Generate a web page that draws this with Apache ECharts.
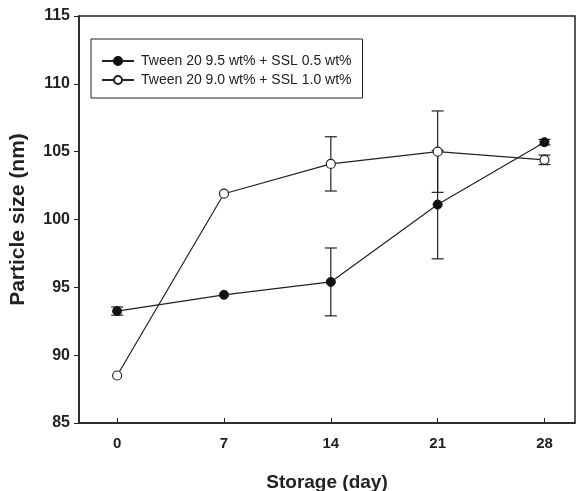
<!DOCTYPE html>
<html>
<head>
<meta charset="utf-8">
<script src="https://cdn.jsdelivr.net/npm/echarts@6/dist/echarts.min.js"></script>
<style>
  html, body { margin: 0; padding: 0; background: #fff; }
  #chart { width: 583px; height: 491px; }
</style>
</head>
<body>
<div id="chart"></div>
<script>
// storage days
const days = [0, 7, 14, 21, 28];
// Tween 20 9.5 wt% + SSL 0.5 wt%
const sizeA = [93.25, 94.45, 95.4, 101.1, 105.7];
const errA = [0.3, 0, 2.5, 4.0, 0.2];
// Tween 20 9.0 wt% + SSL 1.0 wt%
const sizeB = [88.5, 101.9, 104.1, 105.0, 104.4];
const errB = [0, 0, 2.0, 3.0, 0.35];
const nameA = 'Tween 20 9.5 wt% + SSL 0.5 wt%';
const nameB = 'Tween 20 9.0 wt% + SSL 1.0 wt%';

const chart = echarts.init(document.getElementById('chart'));

const fontFam = '"Liberation Sans", Arial, sans-serif';

const toPoints = (vals) => days.map((d, i) => [d, vals[i]]);
const toErr = (vals, errs) => days.map((d, i) => [d, vals[i] - errs[i], vals[i] + errs[i]]);

// vertical error bar with caps, skipped when there is no error
const renderErr = (params, api) => {
  const x = api.value(0);
  if (api.value(1) === api.value(2)) return null;
  const lo = api.coord([x, api.value(1)]);
  const hi = api.coord([x, api.value(2)]);
  const hw = 6;
  const style = { stroke: '#222', lineWidth: 1.2 };
  return {
    type: 'group',
    children: [
      { type: 'line', shape: { x1: lo[0], y1: lo[1], x2: hi[0], y2: hi[1] }, style },
      { type: 'line', shape: { x1: lo[0] - hw, y1: lo[1], x2: lo[0] + hw, y2: lo[1] }, style },
      { type: 'line', shape: { x1: hi[0] - hw, y1: hi[1], x2: hi[0] + hw, y2: hi[1] }, style },
    ],
  };
};

const option = {
  animation: false,
  grid: {
    left: 79, right: 8, top: 16, bottom: 68,
    outerBoundsMode: 'none',
    show: true, borderColor: '#222', borderWidth: 1.5,
  },
  legend: {
    left: 91, top: 39,
    orient: 'vertical',
    padding: [15, 11, 11, 10],
    itemGap: 5,
    itemWidth: 32, itemHeight: 10,
    backgroundColor: '#fff',
    borderColor: '#222', borderWidth: 1,
    borderRadius: 0,
    textStyle: { fontFamily: fontFam, fontSize: 14, color: '#222', padding: [0, 0, 0, 2] },
    data: [nameA, nameB],
  },
  xAxis: {
    type: 'value',
    min: -2.5, max: 30,
    name: 'Storage (day)',
    nameLocation: 'middle',
    nameGap: 50,
    nameTextStyle: { fontFamily: fontFam, fontSize: 19, fontWeight: 'bold', color: '#222' },
    axisLine: { onZero: false, lineStyle: { color: '#222', width: 1.5 } },
    axisTick: { inside: true, length: 5, customValues: days, lineStyle: { color: '#222' } },
    axisLabel: { customValues: days, margin: 13, fontFamily: fontFam, fontSize: 15, fontWeight: 'bold', color: '#222' },
    splitLine: { show: false },
  },
  yAxis: {
    type: 'value',
    min: 85, max: 115, interval: 5,
    name: 'Particle size (nm)',
    nameLocation: 'middle',
    nameGap: 50,
    nameTextStyle: { fontFamily: fontFam, fontSize: 21, fontWeight: 'bold', color: '#222' },
    axisLine: { show: true, onZero: false, lineStyle: { color: '#222', width: 1.5 } },
    axisTick: { show: true, length: 5, lineStyle: { color: '#222' } },
    axisLabel: { margin: 9, fontFamily: fontFam, fontSize: 16, fontWeight: 'bold', color: '#222' },
    splitLine: { show: false },
  },
  series: [
    {
      type: 'custom',
      renderItem: renderErr,
      data: toErr(sizeA, errA),
      z: 1,
      silent: true,
    },
    {
      type: 'custom',
      renderItem: renderErr,
      data: toErr(sizeB, errB),
      z: 1,
      silent: true,
    },
    {
      name: nameA,
      type: 'line',
      data: toPoints(sizeA),
      symbol: 'circle',
      symbolSize: 9,
      itemStyle: { color: '#111', borderColor: '#111', borderWidth: 1 },
      lineStyle: { color: '#222', width: 1.2 },
      z: 3,
    },
    {
      name: nameB,
      type: 'line',
      data: toPoints(sizeB),
      symbol: 'circle',
      symbolSize: 9,
      showAllSymbol: true,
      itemStyle: { color: '#fff', borderColor: '#222', borderWidth: 1.2 },
      lineStyle: { color: '#222', width: 1.2 },
      z: 4,
    },
  ],
};

chart.setOption(option);
</script>
</body>
</html>
